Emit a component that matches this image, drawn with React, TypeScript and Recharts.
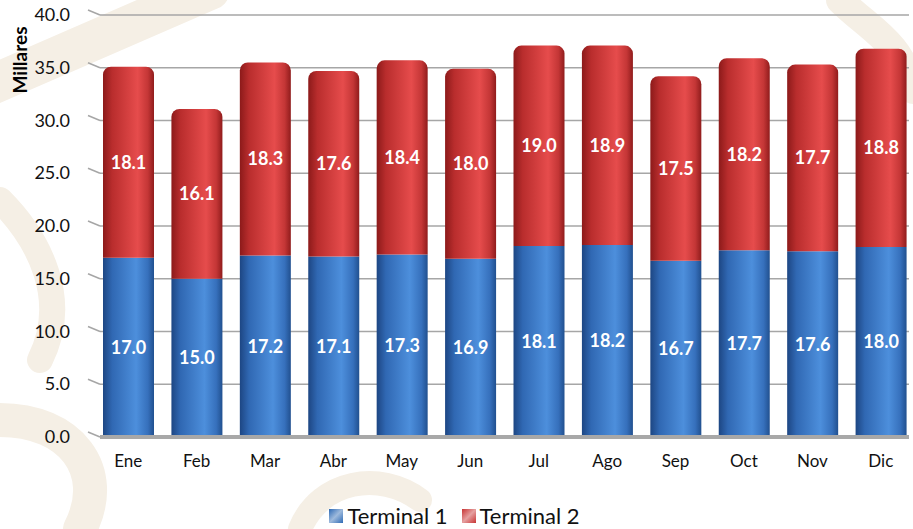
import { BarChart, Bar, XAxis, YAxis, CartesianGrid, Legend, LabelList, ReferenceLine } from 'recharts';

const months = ['Ene', 'Feb', 'Mar', 'Abr', 'May', 'Jun', 'Jul', 'Ago', 'Sep', 'Oct', 'Nov', 'Dic'];
const terminal1 = [17.0, 15.0, 17.2, 17.1, 17.3, 16.9, 18.1, 18.2, 16.7, 17.7, 17.6, 18.0];
const terminal2 = [18.1, 16.1, 18.3, 17.6, 18.4, 18.0, 19.0, 18.9, 17.5, 18.2, 17.7, 18.8];
const yTicks = [0, 5, 10, 15, 20, 25, 30, 35, 40];

const data = months.map((m, i) => ({ month: m, t1: terminal1[i], t2: terminal2[i] }));

const FONT = 'Lato, "Open Sans", sans-serif';

// y tick with the little 3D "floor" stub on the left
const YTick = (props: any) => {
    const { x, y, payload } = props;
    return (
        <g>
            <line x1={x - 10} y1={y - 5} x2={x + 2} y2={y} stroke="#a6a6a6" strokeWidth={1.5} />
            <text x={x - 28} y={y + 6} textAnchor="end" fontSize={18} fill="#111" fontFamily={FONT}>
                {payload.value.toFixed(1)}
            </text>
        </g>
    );
};

const XTick = (props: any) => {
    const { x, y, payload } = props;
    return (
        <text x={x} y={y + 28} textAnchor="middle" fontSize={17} fill="#111" fontFamily={FONT}>
            {payload.value}
        </text>
    );
};

const renderLegend = () => (
    <div style={{ display: 'flex', justifyContent: 'center', gap: 14, fontFamily: FONT, fontSize: 22, color: '#111', lineHeight: '24px' }}>
        {[
            ['Terminal 1', '#2f6bb5'],
            ['Terminal 2', '#c83434'],
        ].map(([name, c]) => (
            <span key={name} style={{ display: 'flex', alignItems: 'center', gap: 4 }}>
                <span style={{ width: 14, height: 14, background: `linear-gradient(135deg, ${c}, #ffffff88 50%, ${c})`, backgroundColor: c, display: 'inline-block' }} />
                {name}
            </span>
        ))}
    </div>
);

// faint beige watermark behind the chart
const Watermark = () => (
    <svg width={913} height={529} style={{ position: 'absolute', left: 0, top: 0 }}>
        <g fill="none" stroke="#f5efe5" strokeLinecap="round">
            <path d="M -20 90 L 210 -10" strokeWidth={40} />
            <path d="M 0 200 C 40 240, 70 300, 40 360" strokeWidth={26} />
            <path d="M 0 420 C 70 420, 110 470, 80 529" strokeWidth={34} />
            <path d="M 300 529 C 320 480, 380 470, 420 500" strokeWidth={24} />
            <path d="M 840 0 C 870 30, 900 40, 913 90" strokeWidth={28} />
        </g>
    </svg>
);

export default function App() {
    return (
        <div style={{ position: 'absolute', left: 0, top: 0, width: 913, height: 529, background: '#fff' }}>
            <Watermark />
            <div style={{ position: 'absolute', left: 0, top: 0 }}>
                <BarChart
                    width={913}
                    height={529}
                    data={data}
                    margin={{ top: 15, right: 4, left: 0, bottom: 1 }}
                    barSize={51}
                >
                    <defs>
                        <linearGradient id="gBlue" x1="0" y1="0" x2="1" y2="0">
                            <stop offset="0%" stopColor="#1d4683" />
                            <stop offset="18%" stopColor="#3068b3" />
                            <stop offset="65%" stopColor="#4d8fdc" />
                            <stop offset="88%" stopColor="#3670bc" />
                            <stop offset="100%" stopColor="#21508f" />
                        </linearGradient>
                        <linearGradient id="gRed" x1="0" y1="0" x2="1" y2="0">
                            <stop offset="0%" stopColor="#8c1a1a" />
                            <stop offset="18%" stopColor="#b92d2d" />
                            <stop offset="68%" stopColor="#e64c4c" />
                            <stop offset="88%" stopColor="#c43636" />
                            <stop offset="100%" stopColor="#901c1c" />
                        </linearGradient>
                    </defs>
                    <CartesianGrid vertical={false} stroke="#a6a6a6" strokeWidth={1.5} />
                    <XAxis
                        dataKey="month"
                        axisLine={false}
                        tickLine={false}
                        tickSize={0}
                        tick={<XTick />}
                        height={67}
                        padding={{ left: -6, right: -6 }}
                    />
                    <YAxis
                        domain={[0, 40]}
                        ticks={yTicks}
                        axisLine={false}
                        tickLine={false}
                        tickSize={0}
                        tick={<YTick />}
                        width={100}
                        label={{
                            content: () => (
                                <text
                                    transform="translate(27,60) rotate(-90)"
                                    textAnchor="middle"
                                    fontSize={19}
                                    fontWeight="bold"
                                    fill="#000"
                                    fontFamily={FONT}
                                >
                                    Millares
                                </text>
                            ),
                        }}
                    />
                    <ReferenceLine y={0} stroke="#a8a8a8" strokeWidth={4} />
                    <Bar dataKey="t1" name="Terminal 1" stackId="a" fill="url(#gBlue)" isAnimationActive={false}>
                        <LabelList
                            dataKey="t1"
                            position="center"
                            fill="#fff"
                            fontSize={18}
                            fontWeight="bold"
                            fontFamily={FONT}
                            formatter={(v: any) => Number(v).toFixed(1)}
                        />
                    </Bar>
                    <Bar dataKey="t2" name="Terminal 2" stackId="a" fill="url(#gRed)" radius={[8, 8, 0, 0]} isAnimationActive={false}>
                        <LabelList
                            dataKey="t2"
                            position="center"
                            fill="#fff"
                            fontSize={18}
                            fontWeight="bold"
                            fontFamily={FONT}
                            formatter={(v: any) => Number(v).toFixed(1)}
                        />
                    </Bar>
                    <Legend verticalAlign="bottom" content={renderLegend} />
                </BarChart>
            </div>
        </div>
    );
}
